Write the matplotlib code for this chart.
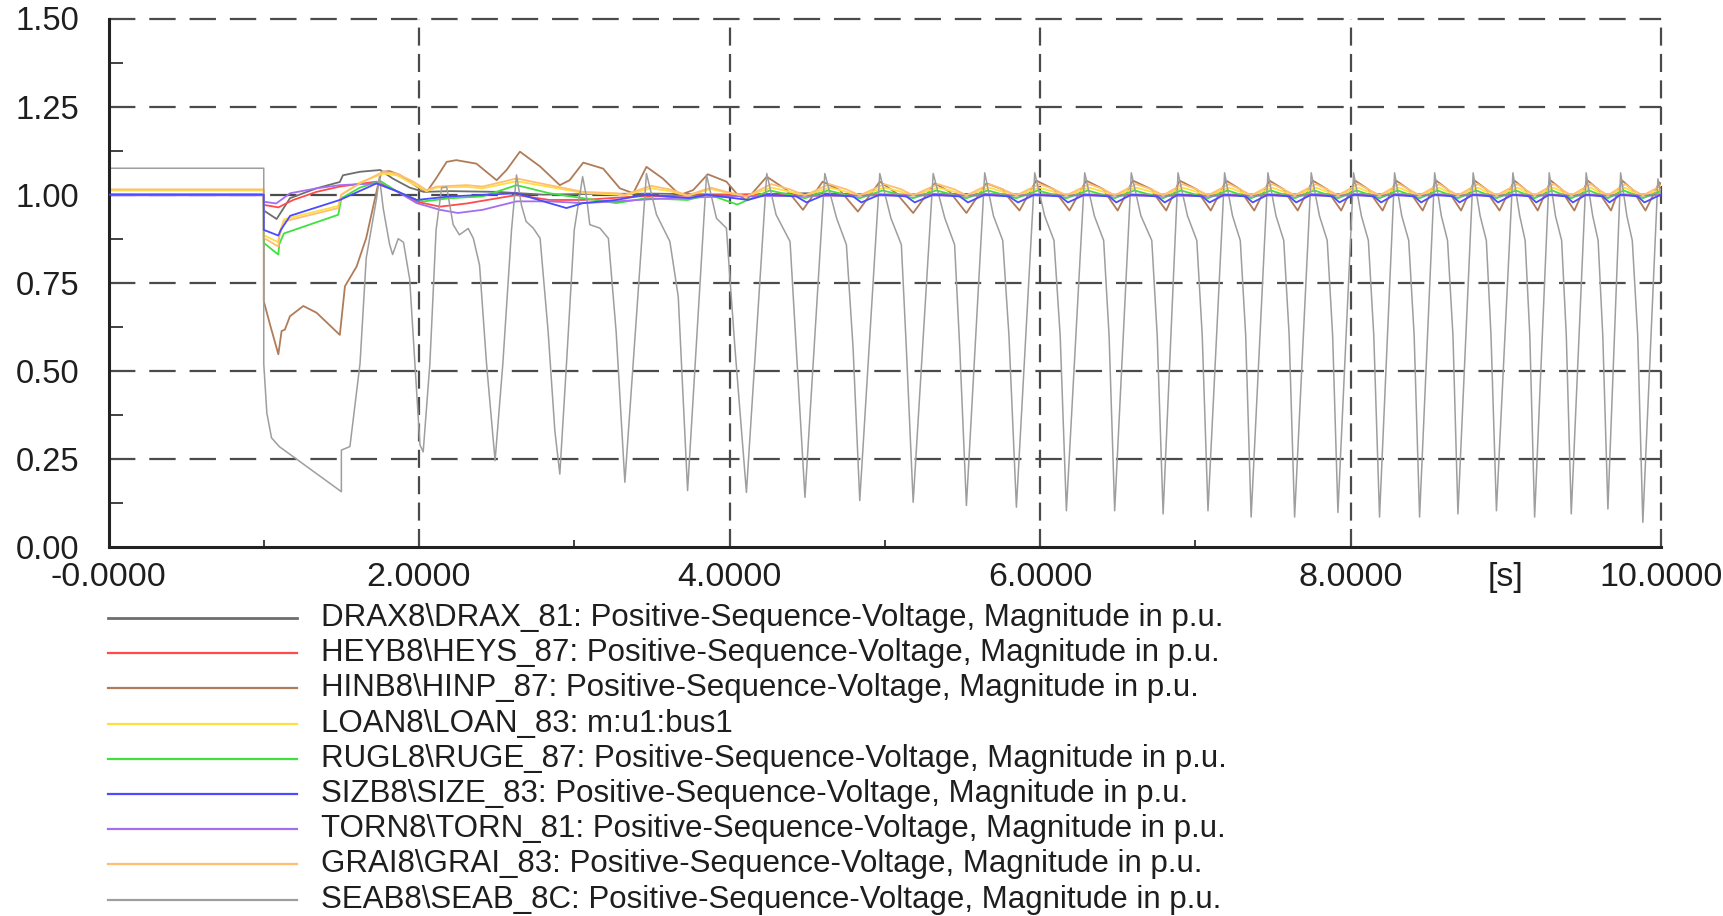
import matplotlib.pyplot as plt
from matplotlib.lines import Line2D
from matplotlib.ticker import FixedLocator

plt.rcParams['font.family'] = ['Liberation Sans', 'DejaVu Sans']
plt.rcParams['lines.scale_dashes'] = False

# ---- series labels / colours (legend order) ----
labels = [
    "DRAX8\\DRAX_81: Positive-Sequence-Voltage, Magnitude in p.u.",
    "HEYB8\\HEYS_87: Positive-Sequence-Voltage, Magnitude in p.u.",
    "HINB8\\HINP_87: Positive-Sequence-Voltage, Magnitude in p.u.",
    "LOAN8\\LOAN_83: m:u1:bus1",
    "RUGL8\\RUGE_87: Positive-Sequence-Voltage, Magnitude in p.u.",
    "SIZB8\\SIZE_83: Positive-Sequence-Voltage, Magnitude in p.u.",
    "TORN8\\TORN_81: Positive-Sequence-Voltage, Magnitude in p.u.",
    "GRAI8\\GRAI_83: Positive-Sequence-Voltage, Magnitude in p.u.",
    "SEAB8\\SEAB_8C: Positive-Sequence-Voltage, Magnitude in p.u.",
]
colors = ["#6e6e6e", "#ff4b4b", "#b07c58", "#ffde40", "#3fe03f",
          "#4b4bff", "#a46ef0", "#ffbe70", "#9e9e9e"]

# ---- data (time [s], voltage [p.u.]) ----
drax = [(0.0, 1.0), (1.0, 1.0), (1.0, 0.955), (1.083, 0.931), (1.169, 0.99), (1.34, 1.018),
        (1.49, 1.036), (1.51, 1.055), (1.62, 1.065), (1.75, 1.07), (1.83, 1.046), (1.94, 1.02),
        (2.03, 1.008), (2.2, 1.01), (2.5, 1.008), (2.8, 1.0), (3.1, 1.002), (3.5, 1.003),
        (4.0, 1.0), (4.5, 1.004), (5.0, 1.0), (5.5, 1.002), (6.0, 1.0), (7.0, 1.0),
        (8.0, 1.001), (9.0, 1.0), (10.0, 1.0)]

heyb = [(0.0, 1.0), (1.0, 1.0), (1.0, 0.971), (1.094, 0.964), (1.19, 0.985), (1.34, 1.008),
        (1.49, 1.023), (1.727, 1.037), (1.856, 1.01), (1.985, 0.98), (2.135, 0.966),
        (2.307, 0.975), (2.628, 0.999), (2.84, 0.985), (3.056, 0.985), (3.4, 0.995),
        (3.8, 0.998), (4.2, 1.0), (4.6, 0.997), (5.0, 1.0), (5.5, 0.998), (6.0, 1.0),
        (7.0, 0.998), (8.0, 1.0), (9.0, 0.999), (10.0, 1.0)]

hinb = [(0.0, 1.0), (1.0, 1.0), (1.0, 0.698), (1.04, 0.632), (1.094, 0.547), (1.115, 0.613),
        (1.136, 0.617), (1.169, 0.655), (1.255, 0.684), (1.34, 0.665), (1.49, 0.602),
        (1.523, 0.74), (1.598, 0.796), (1.66, 0.877), (1.736, 1.028), (1.759, 1.065),
        (1.81, 1.067), (1.877, 1.056), (1.985, 1.023), (2.05, 1.008), (2.11, 1.046),
        (2.178, 1.093), (2.24, 1.098), (2.37, 1.088), (2.5, 1.041), (2.564, 1.07),
        (2.65, 1.122), (2.78, 1.08), (2.907, 1.027), (2.97, 1.041), (3.058, 1.091),
        (3.186, 1.074), (3.294, 1.018), (3.38, 1.004), (3.465, 1.079), (3.57, 1.046),
        (3.68, 0.999), (3.766, 1.013), (3.86, 1.058), (3.98, 1.037), (4.054, 0.999),
        (4.109, 0.985), (4.24, 1.051), (4.37, 1.013), (4.473, 0.957), (4.6, 1.037),
        (4.71, 1.013), (4.827, 0.952), (4.968, 1.037), (5.075, 1.004), (5.183, 0.948),
        (5.322, 1.032), (5.419, 1.008), (5.526, 0.948), (5.655, 1.032),
        (5.76, 1.015), (5.80, 0.99), (5.868, 0.955),
        (5.976, 1.04), (6.09, 1.015), (6.13, 0.99), (6.19, 0.955),
        (6.298, 1.04), (6.41, 1.015), (6.445, 0.99), (6.50, 0.955),
        (6.598, 1.04), (6.72, 1.015), (6.755, 0.99), (6.813, 0.955),
        (6.899, 1.04), (7.01, 1.015), (7.045, 0.99), (7.10, 0.955),
        (7.199, 1.04), (7.29, 1.015), (7.325, 0.99), (7.38, 0.955),
        (7.478, 1.04), (7.57, 1.015), (7.605, 0.99), (7.66, 0.955),
        (7.757, 1.04), (7.85, 1.015), (7.885, 0.99), (7.94, 0.955),
        (8.03, 1.04), (8.115, 1.015), (8.15, 0.99), (8.207, 0.955),
        (8.294, 1.04), (8.375, 1.015), (8.41, 0.99), (8.465, 0.955),
        (8.552, 1.04), (8.625, 1.015), (8.66, 0.99), (8.712, 0.955),
        (8.80, 1.04), (8.875, 1.015), (8.905, 0.99), (8.96, 0.955),
        (9.056, 1.04), (9.125, 1.015), (9.155, 0.99), (9.206, 0.955),
        (9.29, 1.04), (9.36, 1.015), (9.39, 0.99), (9.442, 0.955),
        (9.528, 1.04), (9.595, 1.015), (9.625, 0.99), (9.678, 0.955),
        (9.75, 1.04), (9.815, 1.015), (9.85, 0.99), (9.90, 0.955),
        (9.99, 1.035), (10.0, 1.03)]

loan = [(0.0, 1.012), (1.0, 1.012), (1.0, 0.885), (1.094, 0.865), (1.10, 0.89), (1.13, 0.93),
        (1.48, 0.968), (1.50, 1.0), (1.62, 1.035), (1.77, 1.06), (1.856, 1.055), (1.963, 1.03),
        (2.049, 1.01), (2.113, 1.02), (2.307, 1.022), (2.41, 1.018), (2.628, 1.038),
        (2.84, 1.022), (3.056, 1.005), (3.27, 1.0), (3.326, 0.998),
        (3.495, 1.018), (3.616, 1.01), (3.73, 0.997),
        (3.88, 1.016), (3.98, 1.006), (4.109, 0.995),
        (4.27, 1.02), (4.39, 1.008), (4.486, 0.997),
        (4.644, 1.02), (4.753, 1.008), (4.839, 0.997),
        (4.998, 1.02), (5.107, 1.008), (5.183, 0.997),
        (5.342, 1.02), (5.45, 1.008), (5.526, 0.997),
        (5.674, 1.02), (5.76, 1.008), (5.848, 0.997),
        (5.996, 1.02), (6.09, 1.008), (6.17, 0.997),
        (6.318, 1.02), (6.41, 1.008), (6.481, 0.997),
        (6.618, 1.02), (6.72, 1.008), (6.793, 0.997),
        (6.919, 1.02), (7.01, 1.008), (7.082, 0.997),
        (7.219, 1.02), (7.29, 1.008), (7.36, 0.997),
        (7.498, 1.02), (7.57, 1.008), (7.64, 0.997),
        (7.777, 1.02), (7.85, 1.008), (7.919, 0.997),
        (8.05, 1.02), (8.115, 1.008), (8.187, 0.997),
        (8.314, 1.02), (8.375, 1.008), (8.445, 0.997),
        (8.572, 1.02), (8.625, 1.008), (8.692, 0.997),
        (8.82, 1.02), (8.875, 1.008), (8.94, 0.997),
        (9.076, 1.02), (9.125, 1.008), (9.186, 0.997),
        (9.31, 1.02), (9.36, 1.008), (9.422, 0.997),
        (9.548, 1.02), (9.595, 1.008), (9.658, 0.997),
        (9.77, 1.02), (9.815, 1.008), (9.883, 0.997),
        (10.0, 1.015)]

rugl = [(0.0, 1.0), (1.0, 1.0), (1.0, 0.863), (1.094, 0.83), (1.10, 0.86), (1.13, 0.89),
        (1.48, 0.943), (1.50, 0.99), (1.62, 1.02), (1.75, 1.039), (1.856, 1.01), (1.985, 0.985),
        (2.03, 0.981), (2.2, 0.99), (2.41, 0.995), (2.628, 1.027), (2.84, 1.004),
        (3.056, 0.99), (3.27, 0.976), (3.465, 0.99), (3.73, 0.985), (3.87, 1.0), (4.05, 0.972),
        (4.26, 1.012), (4.486, 0.99), (4.634, 1.012), (4.839, 0.99), (4.988, 1.012),
        (5.183, 0.99), (5.332, 1.012), (5.526, 0.99), (5.664, 1.012), (5.848, 0.99),
        (5.986, 1.012), (6.17, 0.99), (6.308, 1.012), (6.481, 0.99), (6.608, 1.012),
        (6.793, 0.99), (6.909, 1.012), (7.082, 0.99), (7.209, 1.012), (7.36, 0.99),
        (7.488, 1.012), (7.64, 0.99), (7.767, 1.012), (7.919, 0.99), (8.04, 1.012),
        (8.187, 0.99), (8.304, 1.012), (8.445, 0.99), (8.562, 1.012), (8.692, 0.99),
        (8.81, 1.012), (8.94, 0.99), (9.066, 1.012), (9.186, 0.99), (9.30, 1.012),
        (9.422, 0.99), (9.538, 1.012), (9.658, 0.99), (9.76, 1.012), (9.883, 0.99),
        (10.0, 1.01)]

sizb = [(0.0, 1.0), (1.0, 1.0), (1.0, 0.9), (1.094, 0.884), (1.11, 0.9), (1.17, 0.94),
        (1.49, 0.985), (1.727, 1.032), (1.856, 1.01), (1.985, 0.985), (2.2, 0.995),
        (2.628, 1.004), (2.84, 0.976), (2.95, 0.962), (3.056, 0.976), (3.27, 0.985),
        (3.465, 1.0), (3.74, 0.99), (3.852, 1.0), (4.12, 0.985),
        (4.24, 1.0), (4.43, 0.995), (4.496, 0.978),
        (4.614, 1.0), (4.796, 0.995), (4.849, 0.978),
        (4.968, 1.0), (5.139, 0.995), (5.193, 0.978),
        (5.312, 1.0), (5.483, 0.995), (5.536, 0.978),
        (5.644, 1.0), (5.80, 0.995), (5.858, 0.978),
        (5.966, 1.0), (6.13, 0.995), (6.18, 0.978),
        (6.288, 1.0), (6.445, 0.995), (6.491, 0.978),
        (6.588, 1.0), (6.755, 0.995), (6.803, 0.978),
        (6.889, 1.0), (7.045, 0.995), (7.092, 0.978),
        (7.189, 1.0), (7.325, 0.995), (7.37, 0.978),
        (7.468, 1.0), (7.605, 0.995), (7.65, 0.978),
        (7.747, 1.0), (7.885, 0.995), (7.929, 0.978),
        (8.02, 1.0), (8.15, 0.995), (8.197, 0.978),
        (8.284, 1.0), (8.41, 0.995), (8.455, 0.978),
        (8.542, 1.0), (8.66, 0.995), (8.702, 0.978),
        (8.79, 1.0), (8.905, 0.995), (8.95, 0.978),
        (9.046, 1.0), (9.155, 0.995), (9.196, 0.978),
        (9.28, 1.0), (9.39, 0.995), (9.432, 0.978),
        (9.518, 1.0), (9.625, 0.995), (9.668, 0.978),
        (9.74, 1.0), (9.85, 0.995), (9.893, 0.978),
        (10.0, 1.0)]

torn = [(0.0, 0.998), (1.0, 0.998), (1.0, 0.98), (1.08, 0.975), (1.17, 1.004), (1.34, 1.018),
        (1.49, 1.027), (1.727, 1.032), (1.856, 1.01), (1.985, 0.976), (2.135, 0.957),
        (2.25, 0.948), (2.41, 0.957), (2.628, 0.981), (2.84, 0.981), (3.056, 0.976),
        (3.27, 0.981), (3.6, 0.99), (4.0, 0.995), (4.5, 0.997), (5.0, 0.998), (6.0, 0.998),
        (7.0, 0.997), (8.0, 0.998), (9.0, 0.998), (10.0, 0.998)]

grai = [(0.0, 1.015), (1.0, 1.015), (1.0, 0.877), (1.094, 0.853), (1.10, 0.88), (1.13, 0.924),
        (1.48, 0.962), (1.50, 1.0), (1.62, 1.032), (1.77, 1.065), (1.856, 1.06), (1.963, 1.037),
        (2.049, 1.013), (2.113, 1.023), (2.307, 1.027), (2.41, 1.023), (2.628, 1.046),
        (2.84, 1.027), (3.056, 1.008), (3.27, 1.004), (3.326, 1.0),
        (3.495, 1.025), (3.616, 1.015), (3.73, 0.998),
        (3.88, 1.02), (3.98, 1.008), (4.109, 0.995),
        (4.27, 1.03), (4.39, 1.015), (4.486, 0.998),
        (4.644, 1.03), (4.753, 1.015), (4.839, 0.998),
        (4.998, 1.03), (5.107, 1.015), (5.183, 0.998),
        (5.342, 1.03), (5.45, 1.015), (5.526, 0.998),
        (5.674, 1.03), (5.76, 1.015), (5.848, 0.998),
        (5.996, 1.03), (6.09, 1.015), (6.17, 0.998),
        (6.318, 1.03), (6.41, 1.015), (6.481, 0.998),
        (6.618, 1.03), (6.72, 1.015), (6.793, 0.998),
        (6.919, 1.03), (7.01, 1.015), (7.082, 0.998),
        (7.219, 1.03), (7.29, 1.015), (7.36, 0.998),
        (7.498, 1.03), (7.57, 1.015), (7.64, 0.998),
        (7.777, 1.03), (7.85, 1.015), (7.919, 0.998),
        (8.05, 1.03), (8.115, 1.015), (8.187, 0.998),
        (8.314, 1.03), (8.375, 1.015), (8.445, 0.998),
        (8.572, 1.03), (8.625, 1.015), (8.692, 0.998),
        (8.82, 1.03), (8.875, 1.015), (8.94, 0.998),
        (9.076, 1.03), (9.125, 1.015), (9.186, 0.998),
        (9.31, 1.03), (9.36, 1.015), (9.422, 0.998),
        (9.548, 1.03), (9.595, 1.015), (9.658, 0.998),
        (9.77, 1.03), (9.815, 1.015), (9.883, 0.998),
        (10.0, 1.025)]

# SEAB: pre-fault level, fault, then one row per oscillation (peak .. dip)
seab = [(0.0, 1.075), (1.0, 1.075), (1.0, 0.52), (1.02, 0.38), (1.05, 0.31), (1.10, 0.285),
        (1.50, 0.157), (1.50, 0.275), (1.555, 0.285), (1.62, 0.52), (1.66, 0.82),
        (1.727, 0.99), (1.745, 1.05), (1.77, 0.96), (1.81, 0.86), (1.83, 0.83), (1.866, 0.875),
        (1.90, 0.865), (1.94, 0.76), (1.974, 0.52), (2.006, 0.29), (2.027, 0.27),
        (2.07, 0.52), (2.11, 0.90), (2.146, 1.02), (2.178, 1.022), (2.22, 0.915), (2.26, 0.886),
        (2.317, 0.904), (2.35, 0.876), (2.39, 0.80), (2.435, 0.52), (2.49, 0.245),
        (2.54, 0.52), (2.596, 0.90), (2.628, 1.056), (2.66, 0.97), (2.69, 0.924), (2.736, 0.905),
        (2.78, 0.876), (2.832, 0.61), (2.875, 0.33), (2.907, 0.207),
        (2.95, 0.52), (3.0, 0.90), (3.054, 1.051), (3.08, 0.99), (3.10, 0.915), (3.165, 0.905),
        (3.22, 0.876), (3.27, 0.61), (3.326, 0.184),
        (3.465, 1.06), (3.53, 0.943), (3.616, 0.867), (3.67, 0.71), (3.73, 0.160),
        (3.852, 1.056), (3.916, 0.933), (3.98, 0.905), (4.035, 0.565), (4.109, 0.155),
        (4.240, 1.06), (4.30, 0.943), (4.39, 0.867), (4.43, 0.565), (4.486, 0.141),
        (4.614, 1.06), (4.69, 0.933), (4.753, 0.858), (4.796, 0.565), (4.839, 0.132),
        (4.968, 1.06), (5.04, 0.933), (5.107, 0.858), (5.139, 0.565), (5.183, 0.127),
        (5.312, 1.06), (5.387, 0.933), (5.45, 0.858), (5.483, 0.565), (5.526, 0.118),
        (5.644, 1.062), (5.70, 0.94), (5.76, 0.87), (5.80, 0.60), (5.848, 0.113),
        (5.966, 1.062), (6.03, 0.94), (6.09, 0.87), (6.13, 0.60), (6.170, 0.103),
        (6.288, 1.062), (6.35, 0.94), (6.41, 0.87), (6.445, 0.60), (6.481, 0.103),
        (6.588, 1.062), (6.65, 0.94), (6.72, 0.87), (6.755, 0.60), (6.793, 0.094),
        (6.889, 1.062), (6.95, 0.94), (7.01, 0.87), (7.045, 0.60), (7.082, 0.103),
        (7.189, 1.062), (7.24, 0.94), (7.29, 0.87), (7.325, 0.60), (7.360, 0.085),
        (7.468, 1.062), (7.52, 0.94), (7.57, 0.87), (7.605, 0.60), (7.640, 0.085),
        (7.747, 1.062), (7.80, 0.94), (7.85, 0.87), (7.885, 0.60), (7.919, 0.098),
        (8.020, 1.062), (8.07, 0.94), (8.115, 0.87), (8.15, 0.60), (8.187, 0.085),
        (8.284, 1.062), (8.33, 0.94), (8.375, 0.87), (8.41, 0.60), (8.445, 0.085),
        (8.542, 1.062), (8.585, 0.94), (8.625, 0.87), (8.66, 0.60), (8.692, 0.094),
        (8.790, 1.062), (8.835, 0.94), (8.875, 0.87), (8.905, 0.60), (8.940, 0.103),
        (9.046, 1.062), (9.09, 0.94), (9.125, 0.87), (9.155, 0.60), (9.186, 0.085),
        (9.280, 1.062), (9.32, 0.94), (9.36, 0.87), (9.39, 0.60), (9.422, 0.094),
        (9.518, 1.062), (9.56, 0.94), (9.595, 0.87), (9.625, 0.60), (9.658, 0.108),
        (9.740, 1.062), (9.78, 0.94), (9.815, 0.87), (9.85, 0.60), (9.883, 0.070),
        (9.980, 1.045), (10.0, 1.0)]

series = [drax, heyb, hinb, loan, rugl, sizb, torn, grai, seab]

x_ticks = [0, 2, 4, 6, 8, 9, 10]
x_tick_labels = ["-0.0000", "2.0000", "4.0000", "6.0000", "8.0000", "[s]", "10.0000"]
x_minor = [1, 3, 5, 7, 9]
y_ticks = [0.0, 0.25, 0.5, 0.75, 1.0, 1.25, 1.5]
y_minor = [0.125, 0.375, 0.625, 0.875, 1.125, 1.375]

# ---- figure ----
W, H = 1724, 916
fig = plt.figure(figsize=(W / 100, H / 100), dpi=100)
ax = fig.add_axes([108.5 / W, 1 - 547 / H, 1552.5 / W, 528.5 / H])

for data, col in zip(series, colors):
    t, v = zip(*data)
    lw = 1.1 if col == colors[-1] else 1.3
    z = 2.6 if col == colors[5] else 2
    ax.plot(t, v, color=col, lw=lw, zorder=z)

grid_col = "#4a4a4a"
for y in y_ticks[1:]:
    ax.axhline(y, color=grid_col, lw=1.6, linestyle=(0, (19, 10)), clip_on=False, zorder=1)
for x in [2, 4, 6, 8, 10]:
    ax.axvline(x, color=grid_col, lw=1.6, linestyle=(0, (13, 6)), clip_on=False, zorder=1)

ax.set_xlim(0, 10)
ax.set_ylim(0, 1.5)
for s in ["top", "right"]:
    ax.spines[s].set_visible(False)
for s in ["left", "bottom"]:
    ax.spines[s].set_linewidth(2.2)
    ax.spines[s].set_color("#222222")

ax.set_xticks(x_ticks)
ax.set_xticklabels(x_tick_labels)
ax.xaxis.set_minor_locator(FixedLocator(x_minor))
ax.set_yticks(y_ticks)
ax.set_yticklabels([f"{y:.2f}" for y in y_ticks])
ax.yaxis.set_minor_locator(FixedLocator(y_minor))
ax.tick_params(axis="x", which="major", length=0, pad=11, labelsize=24.5, labelcolor="#1e1e1e")
ax.tick_params(axis="y", which="major", length=0, pad=21, labelsize=23.5, labelcolor="#1e1e1e")
ax.tick_params(axis="x", which="minor", direction="in", length=5, width=1.3, color="#333333")
ax.tick_params(axis="y", which="minor", direction="in", length=10, width=1.3, color="#333333")

# ---- legend block below the axes ----
leg_x0, leg_x1, leg_tx = 108, 297, 321
leg_y0, leg_dy = 618, 35.2
for i, (lab, col) in enumerate(zip(labels, colors)):
    yf = 1 - (leg_y0 + i * leg_dy) / H
    fig.add_artist(Line2D([leg_x0 / W, leg_x1 / W], [yf, yf], transform=fig.transFigure,
                          color=col, lw=2.0 if i == 0 else 1.6))
    fig.text(leg_tx / W, yf, lab, fontsize=22.5, color="#1e1e1e", va="center", ha="left")

fig.savefig("out.png", dpi=100, facecolor="white")
